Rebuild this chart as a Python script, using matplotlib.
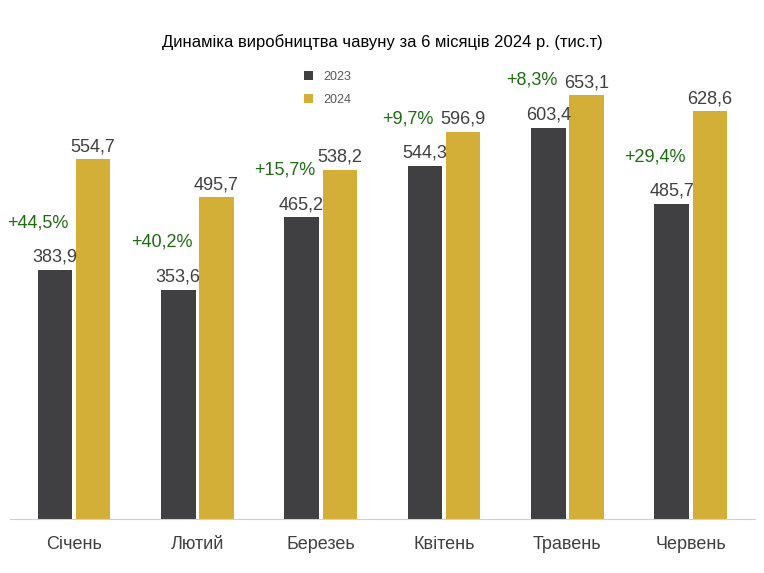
import matplotlib

matplotlib.use("Agg")

import matplotlib.pyplot as plt
import numpy as np

months = ["Січень", "Лютий", "Березеь", "Квітень", "Травень", "Червень"]
prod_2023 = [383.9, 353.6, 465.2, 544.3, 603.4, 485.7]
prod_2024 = [554.7, 495.7, 538.2, 596.9, 653.1, 628.6]
growth = ["+44,5%", "+40,2%", "+15,7%", "+9,7%", "+8,3%", "+29,4%"]

DARK = "#404042"
GOLD = "#D4AF37"
GREEN = "#1E6B12"

plt.rcParams["font.family"] = ["Liberation Sans", "DejaVu Sans"]

fig = plt.figure(figsize=(7.64, 5.73), dpi=100)
ax = fig.add_axes([0.013, 0.094, 0.975, 0.906])

x = np.arange(len(months))
w = 0.28
off = 0.155
ax.bar(x - off, prod_2023, w, color=DARK, label="2023")
ax.bar(x + off, prod_2024, w, color=GOLD, label="2024")

for i in range(len(months)):
    ax.annotate(f"{prod_2023[i]:.1f}".replace(".", ","), (x[i] - off, prod_2023[i]),
                xytext=(0, 3), textcoords="offset points", ha="center", va="bottom",
                fontsize=13, color="#404040")
    ax.annotate(f"{prod_2024[i]:.1f}".replace(".", ","), (x[i] + off, prod_2024[i]),
                xytext=(0, 3), textcoords="offset points", ha="center", va="bottom",
                fontsize=13, color="#404040")
    ax.annotate(growth[i], (x[i] - off, prod_2023[i]),
                xytext=(-12, 28), textcoords="offset points", ha="center", va="bottom",
                fontsize=13, color=GREEN)

ax.set_xlim(-0.52, 5.52)
ax.set_ylim(0, 800)
ax.set_yticks([])
ax.set_xticks(x)
ax.set_xticklabels(months, fontsize=13, color="#404040")
ax.tick_params(axis="x", length=0, pad=12)
for s in ["top", "right", "left"]:
    ax.spines[s].set_visible(False)
ax.spines["bottom"].set_color("#D0D0D0")

ax.legend(loc="upper left", bbox_to_anchor=(0.38, 0.885), frameon=False,
          fontsize=9, labelcolor="#595959", handlelength=0.7, handleheight=0.7,
          labelspacing=0.9)
fig.text(0.5, 0.927, "Динаміка виробництва чавуну за 6 місяців 2024 р. (тис.т)",
         ha="center", va="center", fontsize=12)

fig.savefig("out.png", dpi=100, facecolor="white")
